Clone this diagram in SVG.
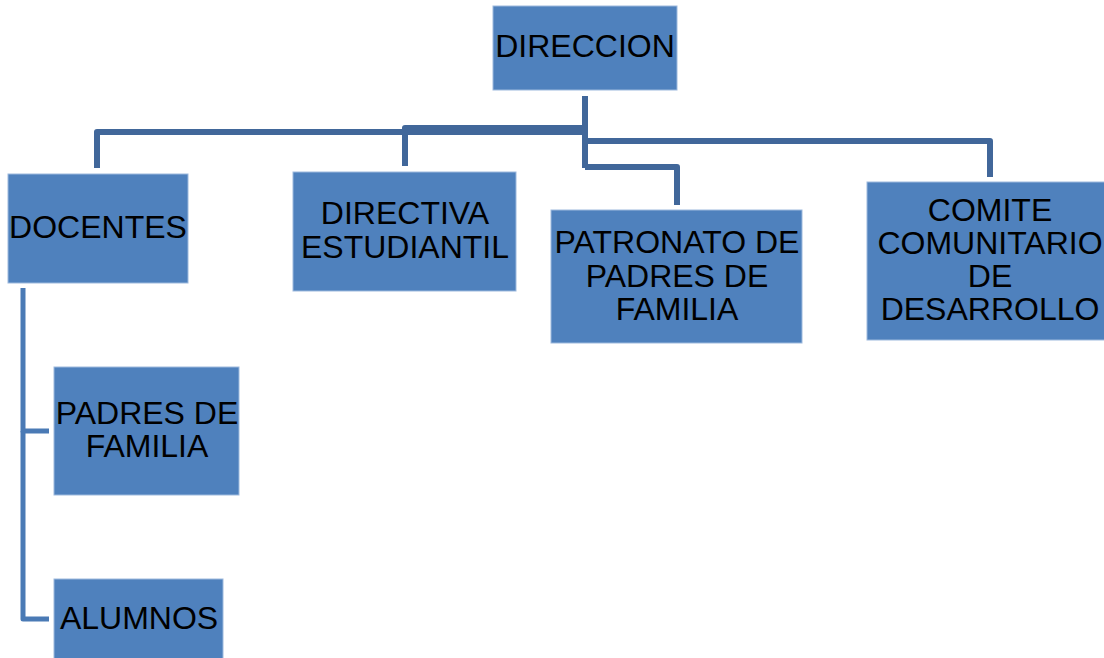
<svg xmlns="http://www.w3.org/2000/svg" width="1104" height="658" viewBox="0 0 1104 658">
<style>
.box{fill:#4F81BD;stroke:#9DB9DD;stroke-width:1}
.t{font-family:"Liberation Sans",Arial,sans-serif;font-size:32px;fill:#000;text-anchor:middle}
.c{fill:none;stroke:#41679A;stroke-width:6;stroke-linejoin:round}
.c2{fill:none;stroke:#4A7AB5;stroke-width:5;stroke-linejoin:round}
</style>
<rect width="1104" height="658" fill="#fff"/>
<g id="connectors">
<path class="c" d="M585,96 V168"/>
<path class="c" d="M97,168 V132 H585"/>
<path class="c" d="M405,166 V128 H585"/>
<path class="c" d="M585,141 H990 V177"/>
<path class="c" d="M585,167 H677 V205"/>
<path class="c2" d="M23,288 V431 H49"/>
<path class="c2" d="M23,431 V619 H49"/>
</g>
<g id="direccion"><rect class="box" x="493" y="6" width="184" height="84"/><text class="t" x="585" y="57">DIRECCION</text></g>
<g id="docentes"><rect class="box" x="8" y="174" width="180" height="109"/><text class="t" x="98" y="238">DOCENTES</text></g>
<g id="directiva"><rect class="box" x="293" y="172" width="223" height="119"/><text class="t" x="405" y="224">DIRECTIVA</text><text class="t" x="405" y="258">ESTUDIANTIL</text></g>
<g id="patronato"><rect class="box" x="551" y="210" width="251" height="133"/><text class="t" x="677" y="253">PATRONATO DE</text><text class="t" x="677" y="287">PADRES DE</text><text class="t" x="677" y="320">FAMILIA</text></g>
<g id="comite"><rect class="box" x="867" y="182" width="246" height="158"/><text class="t" x="990" y="221">COMITE</text><text class="t" x="990" y="254">COMUNITARIO</text><text class="t" x="990" y="287">DE</text><text class="t" x="990" y="320">DESARROLLO</text></g>
<g id="padres"><rect class="box" x="54" y="367" width="185" height="128"/><text class="t" x="147" y="424">PADRES DE</text><text class="t" x="147" y="457">FAMILIA</text></g>
<g id="alumnos"><rect class="box" x="54" y="579" width="169" height="85"/><text class="t" x="139" y="629">ALUMNOS</text></g>
</svg>
